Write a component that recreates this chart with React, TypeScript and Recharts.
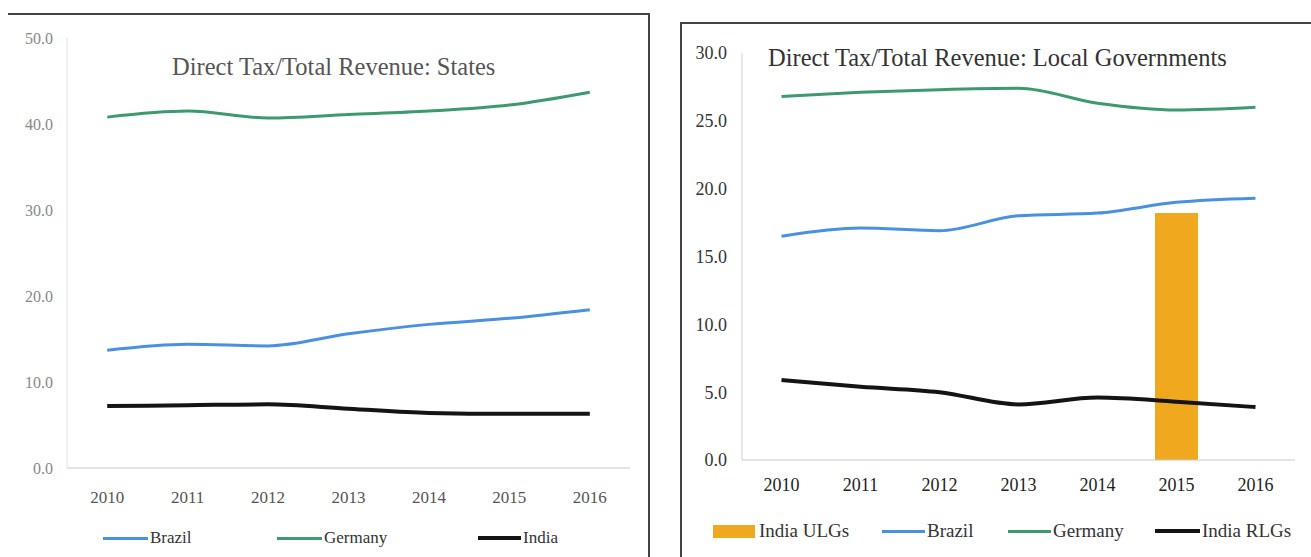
import React from 'react';
import { ComposedChart, Line, Bar, XAxis, YAxis } from 'recharts';

const years = ['2010', '2011', '2012', '2013', '2014', '2015', '2016'];

// States
const statesBrazil = [13.7, 14.4, 14.2, 15.6, 16.7, 17.4, 18.4];
const statesGermany = [40.8, 41.5, 40.7, 41.1, 41.5, 42.2, 43.7];
const statesIndia = [7.2, 7.3, 7.4, 6.9, 6.4, 6.3, 6.3];
const statesTicks = [0, 10, 20, 30, 40, 50];

// Local governments
const localIndiaULGs: (number | null)[] = [null, null, null, null, null, 18.2, null];
const localBrazil = [16.5, 17.1, 16.9, 18.0, 18.2, 19.0, 19.3];
const localGermany = [26.8, 27.1, 27.3, 27.4, 26.3, 25.8, 26.0];
const localIndiaRLGs = [5.9, 5.4, 5.0, 4.1, 4.6, 4.3, 3.9];
const localTicks = [0, 5, 10, 15, 20, 25, 30];

const statesData = years.map((y, i) => ({
  year: y,
  brazil: statesBrazil[i],
  germany: statesGermany[i],
  india: statesIndia[i],
}));

const localData = years.map((y, i) => ({
  year: y,
  ulg: localIndiaULGs[i],
  brazil: localBrazil[i],
  germany: localGermany[i],
  rlg: localIndiaRLGs[i],
}));

const BLUE = '#4a90e2';
const GREEN = '#3d9a6f';
const BLACK = '#141414';
const ORANGE = '#f0a81e';
const FONT = '"Liberation Serif", "DejaVu Serif", serif';

const LegendLine = ({ x, y, color, w, label, thick, size }: any) => (
  <div style={{ position: 'absolute', left: x, top: y, display: 'flex', alignItems: 'center', fontFamily: FONT, fontSize: size, color: '#333', whiteSpace: 'nowrap' }}>
    <div style={{ width: w, height: thick, background: color, marginRight: 2 }} />
    <span>{label}</span>
  </div>
);

export default function App() {
  return (
    <div style={{ position: 'absolute', left: 0, top: 0, width: 1311, height: 557, background: '#fff', overflow: 'hidden' }}>
      {/* Left panel frame */}
      <div style={{ position: 'absolute', left: 8, top: 13, width: 640, height: 560, borderTop: '2px solid #444', borderRight: '2px solid #444' }} />
      {/* Right panel frame */}
      <div style={{ position: 'absolute', left: 680, top: 22, width: 650, height: 560, borderTop: '2px solid #444', borderLeft: '2px solid #444' }} />

      <div style={{ position: 'absolute', left: 0, top: 0 }}>
        <ComposedChart width={646} height={557} data={statesData} margin={{ top: 38, right: 16, bottom: 0, left: 0 }}>
          <XAxis dataKey="year" scale="band" height={89} tickSize={0} tickMargin={23} axisLine={{ stroke: '#c8c8c8' }}
            tick={{ fill: '#555', fontSize: 17, fontFamily: FONT }} />
          <YAxis domain={[0, 50]} ticks={statesTicks} width={67} tickSize={0} tickMargin={14} axisLine={{ stroke: '#e0e0e0' }}
            tickFormatter={(v: number) => v.toFixed(1)} tick={{ fill: '#888', fontSize: 16, fontFamily: FONT }} />
          <Line type="monotone" dataKey="brazil" stroke={BLUE} strokeWidth={3} dot={false} isAnimationActive={false} />
          <Line type="monotone" dataKey="germany" stroke={GREEN} strokeWidth={3} dot={false} isAnimationActive={false} />
          <Line type="monotone" dataKey="india" stroke={BLACK} strokeWidth={4} dot={false} isAnimationActive={false} />
        </ComposedChart>
      </div>
      <div style={{ position: 'absolute', left: 172, top: 53, fontFamily: FONT, fontSize: 24.5, color: '#555', whiteSpace: 'nowrap' }}>
        Direct Tax/Total Revenue: States
      </div>
      <LegendLine x={103} y={528} color={BLUE} w={45} thick={3} size={17} label="Brazil" />
      <LegendLine x={277} y={528} color={GREEN} w={45} thick={3} size={17} label="Germany" />
      <LegendLine x={478} y={528} color={BLACK} w={43} thick={4} size={17} label="India" />

      <div style={{ position: 'absolute', left: 680, top: 0 }}>
        <ComposedChart width={631} height={557} data={localData} margin={{ top: 53, right: 16, bottom: 0, left: 0 }}>
          <XAxis dataKey="year" height={97} tickSize={0} tickMargin={18} axisLine={{ stroke: '#c8c8c8' }}
            tick={{ fill: '#222', fontSize: 18, fontFamily: FONT }} />
          <YAxis domain={[0, 30]} ticks={localTicks} width={62} tickSize={0} tickMargin={15} axisLine={{ stroke: '#d0d0d0' }}
            tickFormatter={(v: number) => v.toFixed(1)} tick={{ fill: '#333', fontSize: 18, fontFamily: FONT }} />
          <Bar dataKey="ulg" fill={ORANGE} barSize={43} isAnimationActive={false} />
          <Line type="monotone" dataKey="brazil" stroke={BLUE} strokeWidth={3} dot={false} isAnimationActive={false} />
          <Line type="monotone" dataKey="germany" stroke={GREEN} strokeWidth={3} dot={false} isAnimationActive={false} />
          <Line type="monotone" dataKey="rlg" stroke={BLACK} strokeWidth={4} dot={false} isAnimationActive={false} />
        </ComposedChart>
      </div>
      <div style={{ position: 'absolute', left: 768, top: 44, fontFamily: FONT, fontSize: 24.5, color: '#333', whiteSpace: 'nowrap' }}>
        Direct Tax/Total Revenue: Local Governments
      </div>
      <div style={{ position: 'absolute', left: 713, top: 520, display: 'flex', alignItems: 'center', fontFamily: FONT, fontSize: 19, color: '#333', whiteSpace: 'nowrap' }}>
        <div style={{ width: 42, height: 13, background: ORANGE, marginRight: 4 }} />
        <span>India ULGs</span>
      </div>
      <LegendLine x={882} y={520} color={BLUE} w={43} thick={3} size={19} label="Brazil" />
      <LegendLine x={1008} y={520} color={GREEN} w={43} thick={3} size={19} label="Germany" />
      <LegendLine x={1155} y={520} color={BLACK} w={45} thick={4} size={19} label="India RLGs" />
    </div>
  );
}
